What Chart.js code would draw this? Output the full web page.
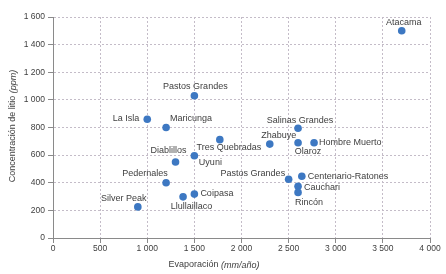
<!DOCTYPE html>
<html lang="es">
<head>
<meta charset="UTF-8">
<script src="https://cdn.jsdelivr.net/npm/chart.js"></script>
<style>
  html, body { margin: 0; padding: 0; background: #fff; }
  canvas { display: block; }
</style>
</head>
<body>
<canvas id="grafico" width="446" height="274"></canvas>
<script>
// datos del gráfico
var salares = ['Atacama', 'Pastos Grandes', 'La Isla', 'Maricunga', 'Salinas Grandes', 'Zhabuye',
  'Tres Quebradas', 'Olaroz', 'Hombre Muerto', 'Diablillos', 'Uyuni', 'Pedernales', 'Pastos Grandes',
  'Centenario-Ratones', 'Cauchari', 'Rincón', 'Coipasa', 'Llullaillaco', 'Silver Peak'];
var evaporacion = [3700, 1500, 1000, 1200, 2600, 2300, 1770, 2600, 2770, 1300, 1500, 1200, 2500,
  2640, 2600, 2600, 1500, 1380, 900];
var litio = [1500, 1030, 860, 800, 795, 680, 712, 690, 690, 550, 595, 400, 425,
  447, 375, 330, 318, 298, 225];
var ticksX = [0, 500, 1000, 1500, 2000, 2500, 3000, 3500, 4000];
var ticksY = [0, 200, 400, 600, 800, 1000, 1200, 1400, 1600];

// donde va cada etiqueta respecto al punto: [alineación, dx, dy]
var posEtiqueta = [
  ['center', 2, -8], ['center', 1, -9], ['right', -8, -1], ['center', 25, -9], ['center', 2, -7.5],
  ['center', 9, -8.5], ['center', 9, 7.5], ['center', 10, 8.5], ['left', 5, 0], ['center', -7, -11.5],
  ['center', 16, 7], ['center', -21, -9.5], ['right', -3.5, -6], ['left', 6, 0], ['left', 6, 1.5],
  ['center', 11, 10.5], ['left', 6, -0.5], ['center', 8.5, 9.5], ['center', -14, -8.5]
];

var fuente = '"Liberation Sans", Arial, sans-serif';
var colorTexto = '#404040';

function formatoMiles(v) {
  if (v >= 1000) {
    var resto = String(v % 1000).padStart(3, '0');
    return Math.floor(v / 1000) + ' ' + resto;
  }
  return String(v);
}

var puntos = evaporacion.map(function (x, i) { return { x: x, y: litio[i] }; });

// etiquetas de los salares y títulos de los ejes
var etiquetas = {
  id: 'etiquetas',
  afterDatasetsDraw: function (chart) {
    var ctx = chart.ctx;
    var meta = chart.getDatasetMeta(0);
    ctx.save();
    ctx.font = '9px ' + fuente;
    ctx.fillStyle = colorTexto;
    ctx.textBaseline = 'middle';
    meta.data.forEach(function (p, i) {
      var pos = posEtiqueta[i];
      ctx.textAlign = pos[0];
      ctx.fillText(salares[i], p.x + pos[1], p.y + pos[2]);
    });
    ctx.restore();
  },
  afterDraw: function (chart) {
    var ctx = chart.ctx;
    ctx.save();
    ctx.fillStyle = colorTexto;
    ctx.textBaseline = 'middle';
    tituloMixto(ctx, 'Evaporación ', '(mm/año)', 214, 265);
    ctx.translate(13, 126);
    ctx.rotate(-Math.PI / 2);
    tituloMixto(ctx, 'Concentración de litio ', '(ppm)', 0, 0);
    ctx.restore();
  }
};

function tituloMixto(ctx, normal, italica, cx, cy) {
  ctx.font = '9px ' + fuente;
  var w1 = ctx.measureText(normal).width;
  ctx.font = 'italic 9px ' + fuente;
  var w2 = ctx.measureText(italica).width;
  var x0 = cx - (w1 + w2) / 2;
  ctx.textAlign = 'left';
  ctx.font = '9px ' + fuente;
  ctx.fillText(normal, x0, cy);
  ctx.font = 'italic 9px ' + fuente;
  ctx.fillText(italica, x0 + w1, cy);
}

var cuadricula = {
  color: '#c4bcc8',
  lineWidth: 1,
  tickLength: 5,
  tickColor: '#8a8a8a',
  tickBorderDash: []
};

new Chart(document.getElementById('grafico'), {
  type: 'scatter',
  data: {
    datasets: [{
      data: puntos,
      backgroundColor: '#3d78c2',
      borderWidth: 0,
      pointRadius: 3.8,
      pointHoverRadius: 3.8
    }]
  },
  options: {
    responsive: false,
    devicePixelRatio: 1,
    animation: false,
    layout: { padding: { top: 17, right: 16, left: 0, bottom: 0 } },
    plugins: { legend: { display: false }, tooltip: { enabled: false } },
    scales: {
      x: {
        min: 0, max: 4000,
        afterBuildTicks: function (s) { s.ticks = ticksX.map(function (v) { return { value: v }; }); },
        afterFit: function (s) { s.height = 36; },
        grid: cuadricula,
        border: { color: '#8a8a8a', dash: [2, 2] },
        ticks: {
          padding: 1,
          color: colorTexto,
          font: { family: fuente, size: 8.5 },
          maxRotation: 0,
          callback: function (v) { return formatoMiles(v); }
        }
      },
      y: {
        min: 0, max: 1600,
        afterBuildTicks: function (s) { s.ticks = ticksY.map(function (v) { return { value: v }; }); },
        afterFit: function (s) { s.width = 53; },
        grid: cuadricula,
        border: { color: '#8a8a8a', dash: [2, 2] },
        ticks: {
          padding: 3,
          color: colorTexto,
          font: { family: fuente, size: 8.5 },
          callback: function (v) { return formatoMiles(v); }
        }
      }
    }
  },
  plugins: [etiquetas]
});
</script>
</body>
</html>
